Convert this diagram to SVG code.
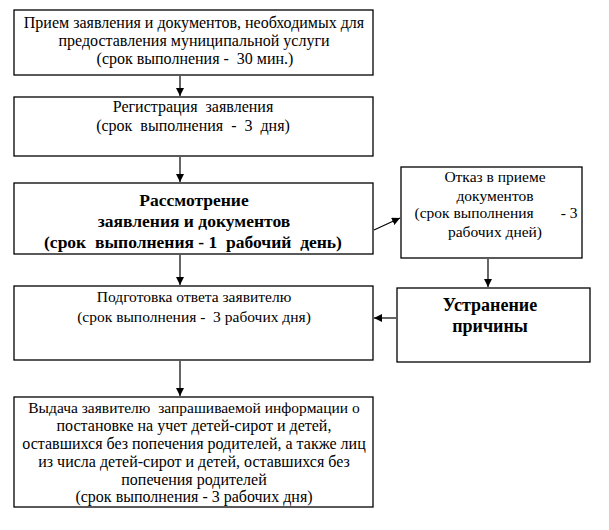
<svg xmlns="http://www.w3.org/2000/svg" width="609" height="530" viewBox="0 0 609 530">
<style>
.n{fill:#fff;stroke:#000;stroke-width:1.3}
text{font-family:"Liberation Serif","Times New Roman","DejaVu Serif",serif;font-size:16px;fill:#000;text-anchor:middle}
.s{font-size:15.5px}
.b{font-weight:bold;font-size:17.5px}
.c{font-weight:bold;font-size:18px}
#connectors line{stroke:#000;stroke-width:1.2}
</style>
<defs>
<marker id="ah" viewBox="0 0 8 8" refX="8" refY="4" markerWidth="8" markerHeight="8" markerUnits="userSpaceOnUse" orient="auto">
<path d="M0,0 L8,4 L0,8 z" fill="#000"/>
</marker>
</defs>
<rect width="609" height="530" fill="#fff"/>
<g id="n1">
<rect class="n" x="14" y="10" width="359" height="65"/>
<text x="194" y="28">Прием заявления и документов, необходимых для</text>
<text x="194" y="46">предоставления муниципальной услуги</text>
<text x="195" y="64" xml:space="preserve">(срок выполнения -  30 мин.)</text>
</g>
<g id="n2">
<rect class="n" x="14" y="97" width="359" height="59"/>
<text x="193" y="112" xml:space="preserve">Регистрация  заявления</text>
<text x="193" y="131" xml:space="preserve">(срок  выполнения  -  3  дня)</text>
</g>
<g id="n3">
<rect class="n" x="14" y="183" width="359" height="71"/>
<text class="b" x="194" y="206">Рассмотрение</text>
<text class="b" x="194" y="227">заявления и документов</text>
<text class="b" x="193" y="248" xml:space="preserve">(срок  выполнения - 1  рабочий  день)</text>
</g>
<g id="n4">
<rect class="n" x="14" y="286" width="359" height="74"/>
<text class="s" x="194" y="302">Подготовка ответа заявителю</text>
<text class="s" x="194" y="322" xml:space="preserve">(срок выполнения -  3 рабочих дня)</text>
</g>
<g id="n5">
<rect class="n" x="14" y="397" width="359" height="110"/>
<text class="s" x="194" y="413" xml:space="preserve">Выдача заявителю  запрашиваемой информации о</text>
<text x="194" y="431">постановке на учет детей-сирот и детей,</text>
<text x="194" y="449">оставшихся без попечения родителей, а также лиц</text>
<text x="194" y="467">из числа детей-сирот и детей, оставшихся без</text>
<text x="194" y="485">попечения родителей</text>
<text x="194" y="502">(срок выполнения - 3 рабочих дня)</text>
</g>
<g id="n6">
<rect class="n" x="401" y="167" width="181" height="91"/>
<text class="s" x="495" y="182">Отказ в приеме</text>
<text class="s" x="495" y="201">документов</text>
<text class="s" x="496" y="218" xml:space="preserve">(срок выполнения       - 3</text>
<text class="s" x="495" y="237">рабочих дней)</text>
</g>
<g id="n7">
<rect class="n" x="397" y="288" width="193" height="74"/>
<text class="c" x="490" y="311">Устранение</text>
<text class="c" x="490" y="332">причины</text>
</g>
<g id="connectors">
<line x1="180" y1="76" x2="180" y2="96" marker-end="url(#ah)"/>
<line x1="180" y1="157" x2="180" y2="182" marker-end="url(#ah)"/>
<line x1="180" y1="255" x2="180" y2="285" marker-end="url(#ah)"/>
<line x1="180" y1="361" x2="180" y2="396" marker-end="url(#ah)"/>
<line x1="374" y1="230" x2="400" y2="218" marker-end="url(#ah)"/>
<line x1="488" y1="259" x2="488" y2="287" marker-end="url(#ah)"/>
<line x1="396" y1="318" x2="374" y2="318" marker-end="url(#ah)"/>
</g>
</svg>
